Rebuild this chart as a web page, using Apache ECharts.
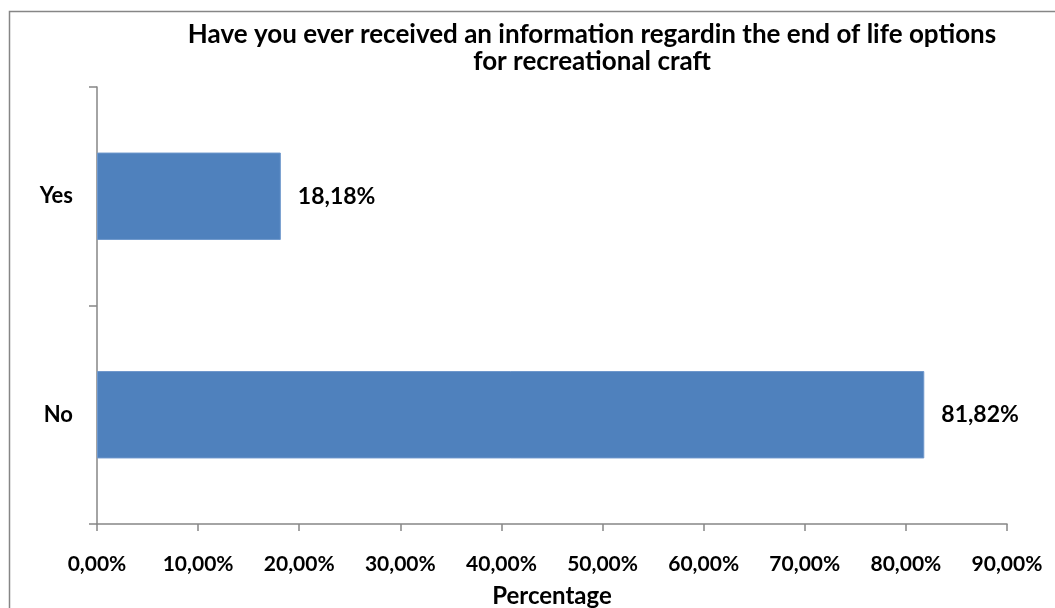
<!DOCTYPE html>
<html>
<head>
<meta charset="utf-8">
<script src="https://cdn.jsdelivr.net/npm/echarts@6/dist/echarts.min.js"></script>
<style>html,body{margin:0;padding:0;background:#fff}#c{width:1055px;height:608px}</style>
</head>
<body>
<div id="c"></div>
<script>
const categories = ["No", "Yes"];
const values = [81.82, 18.18];
const tickValues = [0, 10, 20, 30, 40, 50, 60, 70, 80, 90];
const titleText = "Have you ever received an information regardin the end of life options\nfor recreational craft";
const axisName = "Percentage";

const FONT = "Lato";
const fmt = v => v.toFixed(2).replace('.', ',') + '%';

const chart = echarts.init(document.getElementById('c'), null, {renderer: 'canvas'});
chart.setOption({
  animation: false,
  backgroundColor: '#fff',
  graphic: [{
    type: 'rect', left: 7, top: 9,
    shape: {width: 1100, height: 700},
    style: {fill: 'none', stroke: '#868686', lineWidth: 1.5}
  }],
  title: {
    text: titleText, left: 587, top: 16, textAlign: 'center',
    textStyle: {fontFamily: FONT, fontWeight: 'bold', fontSize: 26, color: '#000', lineHeight: 27}
  },
  grid: {left: 97, right: 48, top: 87, bottom: 84, containLabel: false, outerBoundsMode: 'none'},
  xAxis: {
    type: 'value', min: 0, max: 90, interval: 10,
    name: axisName, nameLocation: 'middle', nameGap: 60,
    nameTextStyle: {fontFamily: FONT, fontWeight: 'bold', fontSize: 24, color: '#000'},
    axisLine: {show: true, lineStyle: {color: '#868686', width: 1.5}},
    axisTick: {show: true, length: 7, lineStyle: {color: '#868686', width: 1.5}},
    splitLine: {show: false},
    axisLabel: {margin: 30, fontFamily: FONT, fontWeight: 'bold', fontSize: 21, color: '#000',
      formatter: v => tickValues.includes(v) ? fmt(v) : ''}
  },
  yAxis: {
    type: 'category', data: categories,
    axisLine: {show: true, lineStyle: {color: '#868686', width: 1.5}},
    axisTick: {show: true, length: 8, lineStyle: {color: '#868686', width: 1.5}},
    axisLabel: {margin: 24, fontFamily: FONT, fontWeight: 'bold', fontSize: 22, color: '#000'}
  },
  series: [{
    type: 'bar', data: values, barWidth: '40%',
    itemStyle: {color: '#4F81BD', borderColor: '#6E97CC', borderWidth: 1},
    label: {show: true, position: 'right', distance: 17, fontFamily: FONT, fontWeight: 'bold',
      fontSize: 23, color: '#000', formatter: p => fmt(p.value)}
  }]
});
</script>
</body>
</html>
